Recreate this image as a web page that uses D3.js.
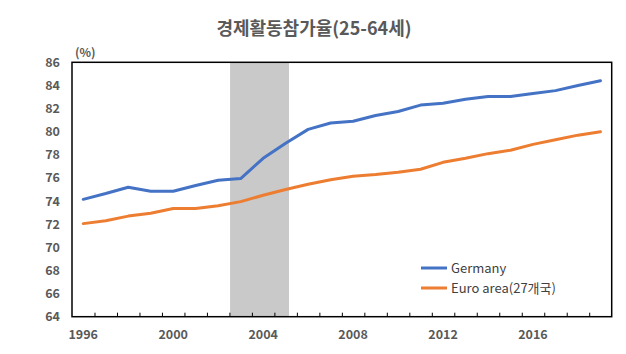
<!DOCTYPE html>
<html>
<head>
<meta charset="utf-8">
<script src="https://cdn.jsdelivr.net/npm/d3@7"></script>
<style>
  body { margin: 0; background: #fff; }
  svg text { font-family: "Noto Sans CJK KR", "Noto Sans", sans-serif; fill: #595959; }
</style>
</head>
<body>
<svg width="626" height="354"></svg>
<script>
var years = d3.range(1996, 2020);
var germany = [74.15, 74.65, 75.2, 74.85, 74.85, 75.35, 75.8, 75.95, 77.7, 79.0, 80.2, 80.75,
               80.9, 81.4, 81.75, 82.3, 82.45, 82.8, 83.05, 83.05, 83.3, 83.55, 84.0, 84.4];
var euro = [72.05, 72.3, 72.7, 72.95, 73.35, 73.35, 73.6, 73.95, 74.5, 75.0, 75.45, 75.85,
            76.15, 76.3, 76.5, 76.75, 77.35, 77.7, 78.1, 78.4, 78.9, 79.3, 79.7, 80.0];
var yTicks = d3.range(64, 87, 2);
var xLabels = [1996, 2000, 2004, 2008, 2012, 2016];
var shade = [2003, 2005];
var seriesNames = ["Germany", "Euro area(27개국)"];
var colors = ["#4472C4", "#ED7D31"];

// plot box (note: "top" is a reserved window prop, so use pTop etc.)
var pLeft = 72, pRight = 611.7, pTop = 62.3, pBottom = 316.7;

var svg = d3.select("svg");

var x = d3.scaleBand().domain(years).range([pLeft, pRight]).padding(0);
var xc = function (d) { return x(d) + x.bandwidth() / 2; };
var y = d3.scaleLinear().domain([64, 86]).range([pBottom, pTop]);

// shaded period
var bw = x.bandwidth();
svg.append("rect")
  .attr("x", x(shade[0]) + 0.03 * bw)
  .attr("width", x(shade[1]) + 0.65 * bw - x(shade[0]) - 0.03 * bw)
  .attr("y", pTop)
  .attr("height", pBottom - pTop)
  .attr("fill", "#C9C9C9");

// lines
var line = d3.line()
  .x(function (d, i) { return xc(years[i]); })
  .y(function (d) { return y(d); });

[germany, euro].forEach(function (s, i) {
  svg.append("path")
    .datum(s)
    .attr("d", line)
    .attr("fill", "none")
    .attr("stroke", colors[i])
    .attr("stroke-width", 3)
    .attr("stroke-linejoin", "round")
    .attr("stroke-linecap", "round");
});

// frame
svg.append("rect")
  .attr("x", pLeft).attr("y", pTop)
  .attr("width", pRight - pLeft).attr("height", pBottom - pTop)
  .attr("fill", "none").attr("stroke", "#000").attr("stroke-width", 1.5);

// x tick marks between categories
var xb = d3.scaleLinear().domain([0, years.length]).range([pLeft, pRight]);
svg.append("g")
  .attr("transform", "translate(0," + pBottom + ")")
  .call(d3.axisBottom(xb).tickValues(d3.range(1, years.length)).tickSize(-4).tickFormat(""))
  .call(function (g) { g.select(".domain").remove(); })
  .selectAll("line").attr("stroke", "#000").attr("stroke-width", 1);

// x labels
svg.append("g")
  .attr("transform", "translate(0," + pBottom + ")")
  .call(d3.axisBottom(x).tickValues(xLabels).tickSize(0).tickPadding(13))
  .call(function (g) { g.select(".domain").remove(); })
  .selectAll("text")
  .attr("font-size", 12.5).attr("font-weight", "bold")
  .style("fill", "#595959");

// y labels
svg.append("g")
  .attr("transform", "translate(" + pLeft + ",0)")
  .call(d3.axisLeft(y).tickValues(yTicks).tickSize(0).tickPadding(12))
  .call(function (g) { g.select(".domain").remove(); })
  .selectAll("text")
  .attr("font-size", 12.5).attr("font-weight", "bold")
  .style("fill", "#595959");

// unit
svg.append("text")
  .attr("x", 75).attr("y", 57)
  .attr("font-size", 12).attr("font-weight", "bold")
  .text("(%)");

// title
svg.append("text")
  .attr("x", 314).attr("y", 35)
  .attr("text-anchor", "middle")
  .attr("font-size", 18).attr("font-weight", "bold")
  .text("경제활동참가율(25-64세)");

// legend
var legend = svg.append("g");
seriesNames.forEach(function (name, i) {
  var ly = 268 + i * 20;
  legend.append("line")
    .attr("x1", 421).attr("x2", 447)
    .attr("y1", ly).attr("y2", ly)
    .attr("stroke", colors[i]).attr("stroke-width", 3);
  legend.append("text")
    .attr("x", 451).attr("y", ly + 4.5)
    .attr("font-size", 13)
    .style("fill", "#404040")
    .text(name);
});
</script>
</body>
</html>
